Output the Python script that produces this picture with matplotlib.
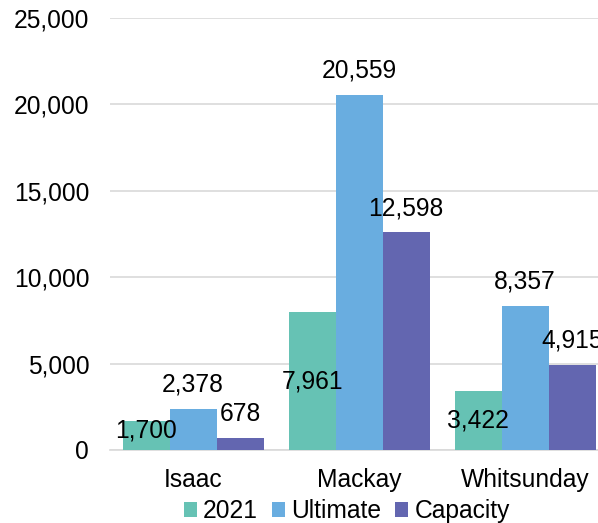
import matplotlib
matplotlib.use('Agg')
import matplotlib.pyplot as plt
import numpy as np

plt.rcParams['font.family'] = ['Liberation Sans', 'DejaVu Sans']

regions = ['Isaac', 'Mackay', 'Whitsunday']
series = ['2021', 'Ultimate', 'Capacity']
v2021 = [1700, 7961, 3422]
ultimate = [2378, 20559, 8357]
capacity = [678, 12598, 4915]
colors = ['#66C2B4', '#69ADE0', '#6366B0']

fig = plt.figure(figsize=(5.98, 5.23), dpi=100)
ax = fig.add_axes([0.184, 0.1396, 0.833, 0.826])

x = np.arange(len(regions))
w = 0.283
fs = 17.7
values = [v2021, ultimate, capacity]
for i, (name, vals, c) in enumerate(zip(series, values, colors)):
    pos = x + (i - 1) * w
    ax.bar(pos, vals, w, color=c, label=name, zorder=3)
    for p, v in zip(pos, vals):
        label = f'{v:,}'
        if i == 0:
            # inside the bar, about the middle
            ax.text(p, v / 2 + (300 if v < 2000 else 0), label, ha='center', va='center',
                    fontsize=fs, zorder=4)
        else:
            ax.text(p, v + 1400, label, ha='center', va='center',
                    fontsize=fs, zorder=4, clip_on=False)

ax.set_xlim(-0.5, 2.5)
ax.set_ylim(0, 25000)
ax.set_yticks(range(0, 25001, 5000))
ax.set_yticklabels([f'{t:,}' for t in range(0, 25001, 5000)], fontsize=fs)
ax.set_xticks(x)
ax.set_xticklabels(regions, fontsize=fs)
ax.tick_params(axis='both', length=0)
ax.tick_params(axis='y', pad=15)
ax.tick_params(axis='x', pad=13)
ax.grid(axis='y', color='#D9D9D9', linewidth=1.2, zorder=0)
for s in ['top', 'right', 'left']:
    ax.spines[s].set_visible(False)
ax.spines['bottom'].set_color('#D9D9D9')
ax.spines['bottom'].set_linewidth(1.2)

fig.legend(loc='lower center', bbox_to_anchor=(0.58, -0.043), ncol=3, frameon=False,
           fontsize=fs, handlelength=0.55, handleheight=0.55, handletextpad=0.25,
           columnspacing=0.55)

fig.savefig('out.png', dpi=100)
